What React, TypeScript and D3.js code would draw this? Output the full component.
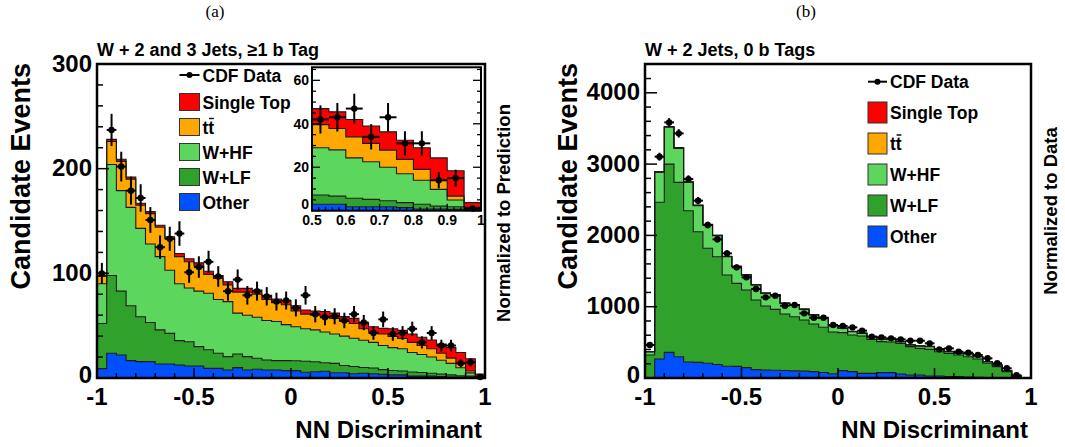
import React from "react";
import * as d3 from "d3";

// ---------- shared binning ----------
const NB = 40;
const edges = d3.range(NB + 1).map((i) => -1 + i * 0.05);

// ---------- panel (a): W + 2 and 3 Jets, >=1 b Tag ----------
const aOther = [9, 23.6, 22, 16.6, 15.6, 15.6, 13.4, 13.4, 12.4, 11.5, 11.5, 9.2, 9.2, 7.6, 9.9, 7.6, 8.3, 7.6, 7.6, 7, 7, 5.5, 6, 6.5, 5, 5, 4, 4.5, 4, 3.5, 3, 3, 1.8, 1.8, 1.8, 1.4, 0.8, 0.8, 0.6, 0.5];
const aWLF = [43, 74.4, 61, 52.4, 42.9, 37.4, 32.6, 29.2, 23.3, 23.2, 18.5, 17.8, 14.4, 12.8, 13.1, 12.8, 10.5, 9.6, 9, 9.6, 9.5, 10.5, 9.5, 8, 9, 7, 7, 5.5, 5.5, 4.5, 4.2, 3.7, 3.9, 3.4, 2.8, 2.3, 2.2, 1.3, 1.2, 0.5];
const aWHF = [38, 106, 96, 94, 84.5, 75, 70, 60.4, 54.3, 51.3, 53, 54, 51.4, 52.6, 39, 39.6, 39.2, 37.8, 37.4, 34.4, 32.5, 31, 30.5, 29.5, 28, 28, 27, 26, 24.5, 23, 21.8, 21.3, 18.6, 17.3, 15.4, 13.3, 11, 7.7, 3.1, 0.4];
const aTT = [7, 22, 28, 27, 22, 29, 28, 30, 26, 25, 24, 18, 20, 16, 20, 22, 22, 20, 18, 19, 15, 14, 14, 15, 15, 14, 14, 11, 10, 11, 10.6, 9.8, 9.7, 8.5, 7.9, 6.6, 5, 4.2, 1.8, 0.2];
const aST = [1, 2, 2, 2, 2, 2, 2, 2, 3, 3, 3, 3, 3, 3, 3.6, 3.6, 4, 4, 3.5, 4, 5, 4, 4, 4.5, 5, 4.6, 5, 5.5, 5, 5.4, 7.4, 7.7, 8, 8, 8.4, 8.8, 10, 10.3, 11.7, 2.1];
const aData = [100, 237, 202, 179, 172, 151, 125, 133, 138, 101, 106, 111, 97, 83, 94, 79, 83, 78, 73, 74, 67, 79, 61, 58, 59, 55, 61, 53, 43, 56, 42, 43, 47, 34, 43, 31, 31, 14, 15, 1];

// ---------- panel (b): W + 2 Jets, 0 b Tags ----------
const bOther = [0, 266, 360, 299, 225, 219, 206, 190, 165, 163, 145, 117, 110, 108, 105, 100, 96, 89, 78, 60, 103, 89, 65, 65, 75, 75, 56, 42, 42, 28, 28, 19, 19, 14, 9, 5, 3, 2, 1, 0];
const bWLF = [322, 2198, 2640, 2445, 2121, 1833, 1613, 1511, 1279, 1164, 1089, 977, 900, 855, 793, 760, 718, 669, 633, 585, 533, 514, 524, 477, 435, 430, 430, 398, 374, 374, 341, 327, 303, 285, 257, 201, 156, 87, 18, 5];
const bWHF = [47, 421, 516, 477, 398, 365, 327, 295, 257, 234, 210, 210, 177, 201, 149, 164, 149, 125, 126, 85, 61, 47, 37, 38, 32, 35, 24, 23, 33, 38, 33, 23, 24, 41, 33, 23, 23, 14, 9, 0];
const bTT = [0, 6, 8, 7, 6, 5, 5, 4, 4, 4, 3, 3, 3, 3, 3, 3, 3, 3, 3, 3, 2, 2, 2, 2, 2, 2, 2, 2, 2, 2, 2, 2, 2, 2, 2, 1, 1, 1, 1, 0];
const bST = [0, 3, 4, 4, 3, 3, 3, 2, 2, 2, 2, 2, 2, 2, 2, 2, 2, 2, 2, 2, 2, 2, 2, 2, 2, 2, 2, 2, 2, 2, 2, 2, 2, 2, 1, 1, 1, 1, 1, 0];
const bData = [463, 3104, 3585, 3431, 2790, 2487, 2146, 1945, 1748, 1552, 1412, 1248, 1131, 1155, 1014, 1024, 907, 846, 846, 743, 729, 710, 664, 580, 570, 556, 542, 523, 523, 486, 402, 416, 369, 355, 322, 276, 206, 136, 38, 0];

// ---------- axes ----------
const xTicks = [-1, -0.5, 0, 0.5, 1];
const xTickLabels = ["-1", "-0.5", "0", "0.5", "1"];
const aYTicks = [0, 100, 200, 300];
const bYTicks = [0, 1000, 2000, 3000, 4000];
const insetXTicks = [0.5, 0.6, 0.7, 0.8, 0.9, 1];
const insetXLabels = ["0.5", "0.6", "0.7", "0.8", "0.9", "1"];
const insetYTicks = [0, 20, 40, 60];

const legendLabels = ["CDF Data", "Single Top", "tt", "W+HF", "W+LF", "Other"];
const keys = ["other", "wlf", "whf", "tt", "st"];
const colors: Record<string, string> = {
  other: "#0050ff",
  wlf: "#30a22c",
  whf: "#5cd65c",
  tt: "#ffa800",
  st: "#ff0000",
};
const legendColors = [colors.st, colors.tt, colors.whf, colors.wlf, colors.other];

const FONT = "'Liberation Sans', Arial, Helvetica, sans-serif";

function makeTable(o: number[], l: number[], h: number[], t: number[], s: number[]) {
  return o.map((_, i) => ({ other: o[i], wlf: l[i], whf: h[i], tt: t[i], st: s[i] }));
}

type Scale = d3.ScaleLinear<number, number>;

function Stack({ table, x, y, lo, hi }: { table: any[]; x: Scale; y: Scale; lo: number; hi: number }) {
  const series = d3.stack<any>().keys(keys)(table);
  const area = d3
    .area<[number, number, number]>()
    .x((d) => x(d[0]))
    .y0((d) => y(d[1]))
    .y1((d) => y(d[2]));
  const line = d3
    .line<[number, number]>()
    .x((d) => x(d[0]))
    .y((d) => y(d[1]));
  return (
    <g>
      {series.map((s, k) => {
        const pts: [number, number, number][] = [];
        for (let i = lo; i < hi; i++) {
          pts.push([edges[i], s[i][0], s[i][1]]);
          pts.push([edges[i + 1], s[i][0], s[i][1]]);
        }
        return <path key={"f" + k} d={area(pts) || ""} fill={colors[keys[k]]} stroke="none" />;
      })}
      {series.map((s, k) => {
        const pts: [number, number][] = [[edges[lo], 0]];
        for (let i = lo; i < hi; i++) {
          pts.push([edges[i], s[i][1]]);
          pts.push([edges[i + 1], s[i][1]]);
        }
        pts.push([edges[hi], 0]);
        return <path key={"l" + k} d={line(pts) || ""} fill="none" stroke="#1a1a1a" strokeWidth={1.1} />;
      })}
    </g>
  );
}

function DataPts({ data, x, y, lo, hi, r, ymax }: { data: number[]; x: Scale; y: Scale; lo: number; hi: number; r: number; ymax: number }) {
  const items = [];
  for (let i = lo; i < hi; i++) {
    const v = data[i];
    if (!(v > 0)) continue;
    const e = Math.sqrt(v);
    const cx = x((edges[i] + edges[i + 1]) / 2);
    const cy = y(v);
    items.push(
      <g key={i}>
        <line x1={cx} x2={cx} y1={y(Math.max(0, v - e))} y2={y(Math.min(ymax, v + e))} stroke="#000" strokeWidth={2} />
        <line x1={x(edges[i])} x2={x(edges[i + 1])} y1={cy} y2={cy} stroke="#000" strokeWidth={2} />
        <circle cx={cx} cy={cy} r={r} fill="#000" />
      </g>
    );
  }
  return <g>{items}</g>;
}

function Panel(props: {
  x0: number; x1: number; yTop: number; yBot: number; ymax: number;
  table: any[]; data: number[]; yTicks: number[]; yMinor: number;
  title: string; sideLabel: string; sideX: number; sideY: number;
  ytitleX: number; leg: { x: number; y0: number; dy: number; bw: number; bh: number; ty: number };
}) {
  const { x0, x1, yTop, yBot, ymax } = props;
  const x = d3.scaleLinear().domain([-1, 1]).range([x0, x1]);
  const y = d3.scaleLinear().domain([0, ymax]).range([yBot, yTop]);
  const minorX = d3.range(-1, 1.0001, 0.1);
  const minorY = d3.range(0, ymax + 0.001, props.yMinor);
  const leg = props.leg;
  return (
    <g>
      <Stack table={props.table} x={x} y={y} lo={0} hi={NB} />
      <DataPts data={props.data} x={x} y={y} lo={0} hi={NB} r={3.2} ymax={ymax} />
      {/* frame */}
      <rect x={x0} y={yTop} width={x1 - x0} height={yBot - yTop} fill="none" stroke="#000" strokeWidth={2.5} />
      {minorX.map((t, i) => (
        <line key={"mx" + i} x1={x(t)} x2={x(t)} y1={yBot} y2={yBot - (Math.abs(Math.round(t * 10)) % 5 === 0 ? 10 : 5)} stroke="#000" strokeWidth={1.5} />
      ))}
      {minorY.map((t, i) => (
        <line key={"my" + i} x1={x0} x2={x0 + (props.yTicks.some((m) => Math.abs(m - t) < 1e-6) ? 12 : 6)} y1={y(t)} y2={y(t)} stroke="#000" strokeWidth={1.5} />
      ))}
      {xTicks.map((t, i) => (
        <text key={"xl" + i} x={x(t)} y={405} textAnchor="middle" fontFamily={FONT} fontWeight="bold" fontSize={24}>
          {xTickLabels[i]}
        </text>
      ))}
      {props.yTicks.map((t, i) => (
        <text key={"yl" + i} x={x0 - 5} y={y(t) + (t === 0 ? 5 : 7.5)} textAnchor="end" fontFamily={FONT} fontWeight="bold" fontSize={24}>
          {String(t)}
        </text>
      ))}
      <text x={x1 - 3} y={438} textAnchor="end" fontFamily={FONT} fontWeight="bold" fontSize={24}>
        NN Discriminant
      </text>
      <text transform={`translate(${props.ytitleX},63) rotate(-90)`} textAnchor="end" fontFamily={FONT} fontWeight="bold" fontSize={27}>
        Candidate Events
      </text>
      <text x={x0} y={56} fontFamily={FONT} fontWeight="bold" fontSize={18}>
        {props.title}
      </text>
      <text transform={`translate(${props.sideX},${props.sideY}) rotate(-90)`} textAnchor="middle" fontFamily={FONT} fontWeight="bold" fontSize={18.5}>
        {props.sideLabel}
      </text>
      {/* legend */}
      <g fontFamily={FONT} fontWeight="bold" fontSize={17.5}>
        <line x1={leg.x} x2={leg.x + leg.bw} y1={leg.y0} y2={leg.y0} stroke="#000" strokeWidth={2} />
        <circle cx={leg.x + leg.bw / 2} cy={leg.y0} r={3} fill="#000" />
        <text x={leg.x + leg.bw + 3} y={leg.y0 + 6.5}>{legendLabels[0]}</text>
        {legendColors.map((c, k) => {
          const top = leg.ty + k * leg.dy;
          const ty = top + leg.bh / 2 + 6.5;
          const tx = leg.x + leg.bw + 3;
          return (
            <g key={"lg" + k}>
              <rect x={leg.x} y={top} width={leg.bw} height={leg.bh} fill={c} stroke="#333" strokeWidth={1} />
              <text x={tx} y={ty}>{legendLabels[k + 1]}</text>
              {legendLabels[k + 1] === "tt" && (
                <line x1={tx + 6.6} x2={tx + 11.4} y1={ty - 15} y2={ty - 15} stroke="#000" strokeWidth={1.4} />
              )}
            </g>
          );
        })}
      </g>
    </g>
  );
}

function Inset({ table, data }: { table: any[]; data: number[] }) {
  const X0 = 312, X1 = 481, YT = 67.3, YB = 210.7, YMAX = 66;
  const x = d3.scaleLinear().domain([0.5, 1]).range([X0, X1]);
  const y = d3.scaleLinear().domain([0, YMAX]).range([YB, YT]);
  const minorY = d3.range(0, YMAX, 5);
  const minorX = d3.range(0.5, 1.0001, 0.02);
  return (
    <g>
      <rect x={X0} y={YT} width={X1 - X0} height={YB - YT} fill="#fff" />
      <Stack table={table} x={x} y={y} lo={30} hi={40} />
      <DataPts data={data} x={x} y={y} lo={30} hi={40} r={3.2} ymax={YMAX} />
      <rect x={X0} y={YT} width={X1 - X0} height={YB - YT} fill="none" stroke="#000" strokeWidth={2} />
      {minorY.map((t, i) => {
        const major = insetYTicks.includes(t);
        const L = major ? 8 : 4;
        return (
          <g key={"iy" + i}>
            <line x1={X0} x2={X0 + L} y1={y(t)} y2={y(t)} stroke="#000" strokeWidth={1.3} />
            <line x1={X1} x2={X1 - L} y1={y(t)} y2={y(t)} stroke="#000" strokeWidth={1.3} />
          </g>
        );
      })}
      {minorX.map((t, i) => {
        const major = Math.abs(t * 10 - Math.round(t * 10)) < 1e-6;
        return <line key={"ix" + i} x1={x(t)} x2={x(t)} y1={YB} y2={YB - (major ? 7 : 3.5)} stroke="#000" strokeWidth={1.3} />;
      })}
      {insetYTicks.map((t, i) => (
        <text key={"iyl" + i} x={X0 - 3} y={y(t) + (t === 0 ? -1.5 : 5)} textAnchor="end" fontFamily={FONT} fontWeight="bold" fontSize={14}>
          {String(t)}
        </text>
      ))}
      {insetXTicks.map((t, i) => (
        <text key={"ixl" + i} x={x(t)} y={225} textAnchor="middle" fontFamily={FONT} fontWeight="bold" fontSize={14}>
          {insetXLabels[i]}
        </text>
      ))}
    </g>
  );
}

export default function App() {
  const tableA = makeTable(aOther, aWLF, aWHF, aTT, aST);
  const tableB = makeTable(bOther, bWLF, bWHF, bTT, bST);
  return (
    <svg width={1065} height={447} style={{ position: "absolute", left: 0, top: 0, background: "#fff" }}>
      <rect x={0} y={0} width={1065} height={447} fill="#fff" />
      <text x={215} y={17} textAnchor="middle" fontFamily="'Liberation Serif', 'DejaVu Serif', serif" fontSize={17}>(a)</text>
      <text x={806} y={17} textAnchor="middle" fontFamily="'Liberation Serif', 'DejaVu Serif', serif" fontSize={17}>(b)</text>
      <Panel
        x0={97} x1={485} yTop={64} yBot={378} ymax={300}
        table={tableA} data={aData} yTicks={aYTicks} yMinor={20}
        title="W + 2 and 3 Jets, ≥1 b Tag" sideLabel="Normalized to Prediction" sideX={510} sideY={213}
        ytitleX={30}
        leg={{ x: 179.5, y0: 75, dy: 25, bw: 20, bh: 17, ty: 93.5 }}
      />
      <Inset table={tableA} data={aData} />
      <Panel
        x0={645} x1={1031} yTop={64} yBot={378} ymax={4404}
        table={tableB} data={bData} yTicks={bYTicks} yMinor={200}
        title="W + 2 Jets, 0 b Tags" sideLabel="Normalized to Data" sideX={1057} sideY={211}
        ytitleX={577}
        leg={{ x: 868, y0: 81.7, dy: 31, bw: 19, bh: 21, ty: 102 }}
      />
    </svg>
  );
}
